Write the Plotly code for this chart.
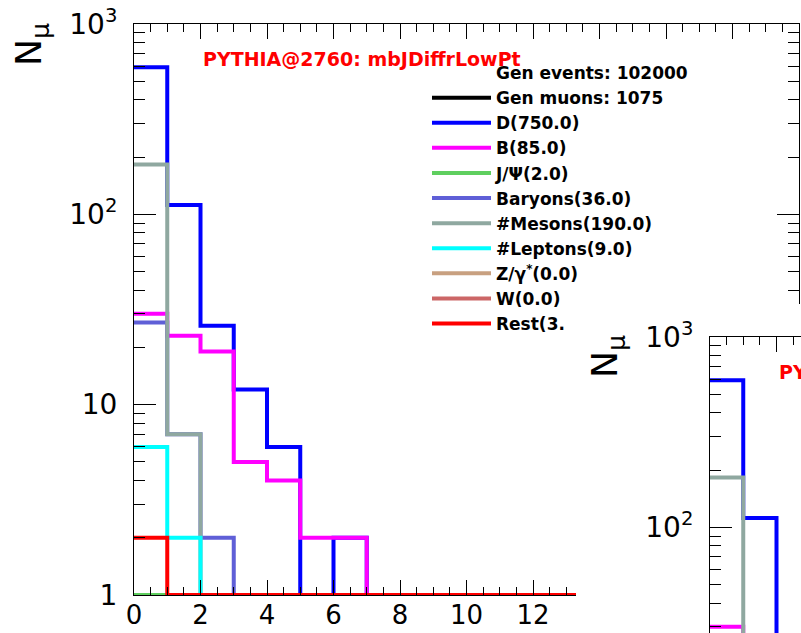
import numpy as np
import plotly.graph_objects as go

# ---------------- data (bin contents, bins of width 1 from 0 to 20) ----------------
bin_edges = list(range(0, 21))
d_vals      = [592, 112, 26, 12, 6, 0, 2] + [0] * 13
b_vals      = [30, 23, 19, 5, 4, 2, 2] + [0] * 13
jpsi_vals   = [1, 1] + [0] * 18
baryon_vals = [27, 7, 2] + [0] * 17
meson_vals  = [183, 7] + [0] * 18
lepton_vals = [6, 2, 1] + [0] * 17
z_vals      = [0] * 20
w_vals      = [0] * 20
rest_vals   = [2, 1] + [0] * 18

series_names  = ["D(750.0)", "B(85.0)", "J/\u03a8(2.0)", "Baryons(36.0)", "#Mesons(190.0)",
                 "#Leptons(9.0)", "Z/\u03b3<sup>*</sup>(0.0)", "W(0.0)", "Rest(3."]
series_values = [d_vals, b_vals, jpsi_vals, baryon_vals, meson_vals,
                 lepton_vals, z_vals, w_vals, rest_vals]
series_colors = ["#0000ff", "#ff00ff", "#5fcf5f", "#5f5fd7", "#8fa8a0",
                 "#00ffff", "#c8a080", "#cc6666", "#ff0000"]
# drawing order (later = on top), legend keeps the order above
draw_order = [6, 7, 0, 1, 2, 3, 4, 5, 8]

header_labels = ["Gen events: 102000", "Gen muons: 1075"]
title_text = "PYTHIA@2760: mbJDiffrLowPt"
y_tickvals = [1, 10, 100, 1000]
y_ticktext = ["1", "10", "10<sup>2</sup>", "10<sup>3</sup>"]
y_minor = [m * 10 ** e for e in range(0, 3) for m in range(2, 10)]

# ---------------- geometry ----------------
W, H = 801, 633
L, R, T, B = 134, 799, 24, 595          # main frame (pixels)
DX, DY = 576, 313                        # offset of the overlapping second pad
COVER_TOP = 304
px_per_x = (R - L) / 20.0
px_per_dec = (B - T) / 3.0

FONT = "DejaVu Sans"
LW = 4

fig = go.Figure()

# header legend entries (no marks)
fig.add_trace(go.Scatter(x=[None], y=[None], mode="lines", name=header_labels[0],
                         line=dict(color="rgba(0,0,0,0)", width=LW), legendrank=1,
                         xaxis="x", yaxis="y"))
fig.add_trace(go.Scatter(x=[None], y=[None], mode="lines", name=header_labels[1],
                         line=dict(color="black", width=LW), legendrank=2,
                         xaxis="x", yaxis="y"))

def step_xy(vals):
    y = np.maximum(np.array(vals, dtype=float), 1.0)   # ROOT draws empty bins at the frame minimum
    return bin_edges, list(y) + [y[-1]]

for i in draw_order:
    xs, ys = step_xy(series_values[i])
    fig.add_trace(go.Scatter(x=xs, y=ys, mode="lines", line_shape="hv",
                             name=series_names[i], legendrank=10 + i,
                             line=dict(color=series_colors[i], width=LW),
                             xaxis="x", yaxis="y", hoverinfo="skip"))

# white pad of the second (overlapping) canvas
fig.add_trace(go.Scatter(x=[-1, 2, 2, -1], y=[-1, -1, 2, 2], fill="toself", fillcolor="white",
                         mode="lines", line=dict(width=0, color="white"), showlegend=False,
                         xaxis="x2", yaxis="y2", hoverinfo="skip"))

for i in draw_order:
    xs, ys = step_xy(series_values[i])
    fig.add_trace(go.Scatter(x=xs, y=ys, mode="lines", line_shape="hv", showlegend=False,
                             line=dict(color=series_colors[i], width=LW),
                             xaxis="x3", yaxis="y3", hoverinfo="skip"))

xcommon = dict(showline=True, linecolor="black", linewidth=1, ticks="inside", ticklen=15,
               tickwidth=1, tickcolor="black", dtick=2, tick0=0, showgrid=False, zeroline=False,
               automargin=False,
               minor=dict(dtick=0.5, tick0=0, ticks="inside", ticklen=8, tickcolor="black", tickwidth=1,
                          showgrid=False),
               tickfont=dict(family=FONT, size=26, color="black"))
ycommon = dict(type="log", showline=True, linecolor="black", linewidth=1, ticks="inside", ticklen=22,
               tickwidth=1, tickcolor="black", tickmode="array", tickvals=y_tickvals,
               ticktext=y_ticktext, showgrid=False, zeroline=False, automargin=False,
               minor=dict(tickmode="array", tickvals=y_minor, ticks="inside", ticklen=11,
                          tickcolor="black", tickwidth=1, showgrid=False),
               tickfont=dict(family=FONT, size=28, color="black"), ticklabelstandoff=10)

fig.update_layout(
    width=W, height=H, margin=dict(l=0, r=0, t=0, b=0, autoexpand=False),
    paper_bgcolor="white", plot_bgcolor="white",
    xaxis=dict(domain=[L / W, R / W], range=[0, 20], anchor="y", mirror="ticks",
               ticklabelstandoff=-3, **xcommon),
    yaxis=dict(domain=[1 - B / H, 1 - T / H], range=[0, 3], anchor="x", mirror="ticks", **ycommon),
    xaxis2=dict(domain=[DX / W, 1], range=[0, 1], anchor="y2", visible=False, automargin=False),
    yaxis2=dict(domain=[0, 1 - COVER_TOP / H], range=[0, 1], anchor="x2", visible=False,
                automargin=False),
    xaxis3=dict(domain=[(L + DX) / W, 1], range=[0, (W - L - DX) / px_per_x], anchor="y3",
                side="top", showticklabels=False, **xcommon),
    yaxis3=dict(domain=[0, 1 - (T + DY) / H], range=[3 - (H - T - DY) / px_per_dec, 3],
                anchor="x3", **ycommon),
    legend=dict(x=427 / W, y=1 - 55 / H, xanchor="left", yanchor="top",
                bgcolor="rgba(0,0,0,0)", borderwidth=0, itemwidth=59, tracegroupgap=0,
                font=dict(family=FONT, size=17, color="black", weight="bold")),
    showlegend=True,
)

def add_pad_texts(ox, oy):
    fig.add_annotation(text="N<sub>\u03bc</sub>", textangle=-90, xref="paper", yref="paper",
                       x=(31 + ox) / W, y=1 - (44 + oy) / H, xanchor="center", yanchor="middle",
                       showarrow=False, font=dict(family=FONT, size=36, color="black"))
    fig.add_annotation(text=title_text, xref="paper", yref="paper",
                       x=(201 + ox) / W, y=1 - (59 + oy) / H, xanchor="left", yanchor="middle",
                       showarrow=False,
                       font=dict(family=FONT, size=19, color="#ff0000", weight="bold"))

add_pad_texts(0, 0)
add_pad_texts(DX, DY)

fig.write_html("out.html")
